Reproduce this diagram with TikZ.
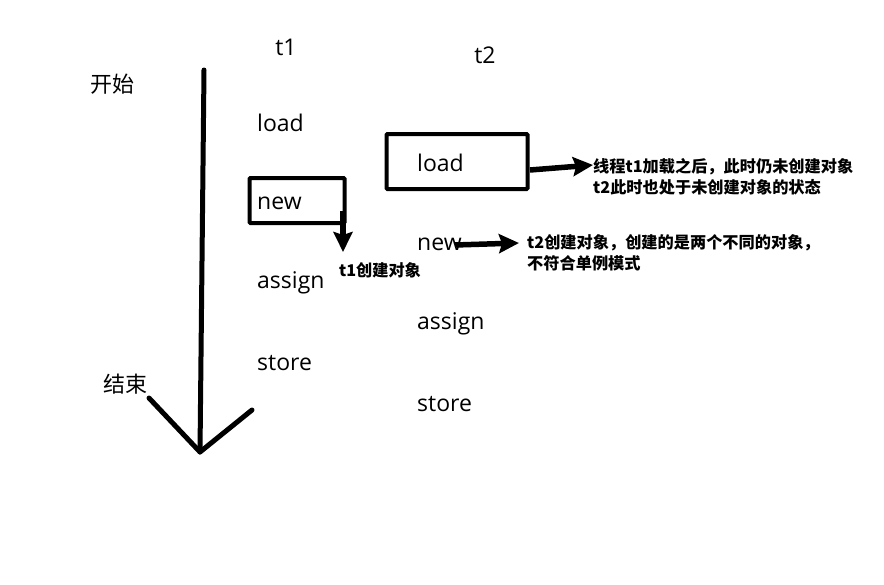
\documentclass[tikz,border=0pt]{standalone}
\usepackage{fontspec}
\setmainfont{Open Sans}
\newfontfamily\cjk{Noto Sans CJK SC}
\usetikzlibrary{arrows.meta}
\begin{document}
\begin{tikzpicture}[x=1pt,y=-1pt,
  op/.style={font=\fontsize{23}{26}\selectfont, anchor=west, inner sep=0pt},
  cj/.style={font=\cjk\fontsize{22}{26}\selectfont, inner sep=0pt},
  note/.style={font=\cjk\bfseries\fontsize{16.2}{21}\selectfont, anchor=west, inner sep=0pt, align=left},
  box/.style={draw, line width=4pt, rounded corners=1pt, inner sep=0pt},
  thick arrow/.style={line width=5.5pt, -{Stealth[length=20pt,width=19pt,inset=3pt]}},
  axis/.style={line width=5pt, line cap=round, line join=round}]
\useasboundingbox (0,0) rectangle (884,584);
\fill[white] (0,0) rectangle (884,584);
% headers
\node[op, anchor=center] (t1) at (286,47) {t1};
\node[op, anchor=center] (t2) at (485,55) {t2};
\node[cj] (start) at (112,84) {开始};
\node[cj] (end) at (125,384) {结束};
% time axis
\coordinate (atop) at (204,70);
\coordinate (abot) at (200,452);
\coordinate (aleft) at (149,398);
\coordinate (aright) at (252,410);
\draw[axis] (atop) -- (abot);
\draw[axis] (aleft) -- (abot) -- (aright);
% t1 column
\node[op] (load1) at (257,123) {load};
\node[op] (new1) at (257,203) {new};
\node[op] (assign1) at (257,283) {assign};
\node[op] (store1) at (257,363) {store};
% t2 column
\node[op] (load2) at (417,163) {load};
\node[op] (new2) at (417,244) {new};
\node[op] (assign2) at (417,324) {assign};
\node[op] (store2) at (417,404) {store};
% boxes
\node[box, minimum width=95pt, minimum height=45pt] (box1) at (297,200.5) {};
\node[box, minimum width=141pt, minimum height=55pt] (box2) at (457,161.5) {};
% notes
\node[note, anchor=center] (note1) at (380,270) {t1创建对象};
\node[note] (note2) at (593,177) {线程t1加载之后，此时仍未创建对象\\t2此时也处于未创建对象的状态};
\node[note] (note3) at (527,253) {t2创建对象，创建的是两个不同的对象，\\不符合单例模式};
% arrows
\coordinate (a1s) at (343,211);
\coordinate (a1e) at (343,252);
\draw[thick arrow] (a1s) -- (a1e);
\coordinate (a2s) at (530,170);
\coordinate (a2e) at (593,165);
\draw[thick arrow] (a2s) -- (a2e);
\coordinate (a3s) at (455,245);
\coordinate (a3e) at (519,243);
\draw[thick arrow] (a3s) -- (a3e);
\end{tikzpicture}
\end{document}
